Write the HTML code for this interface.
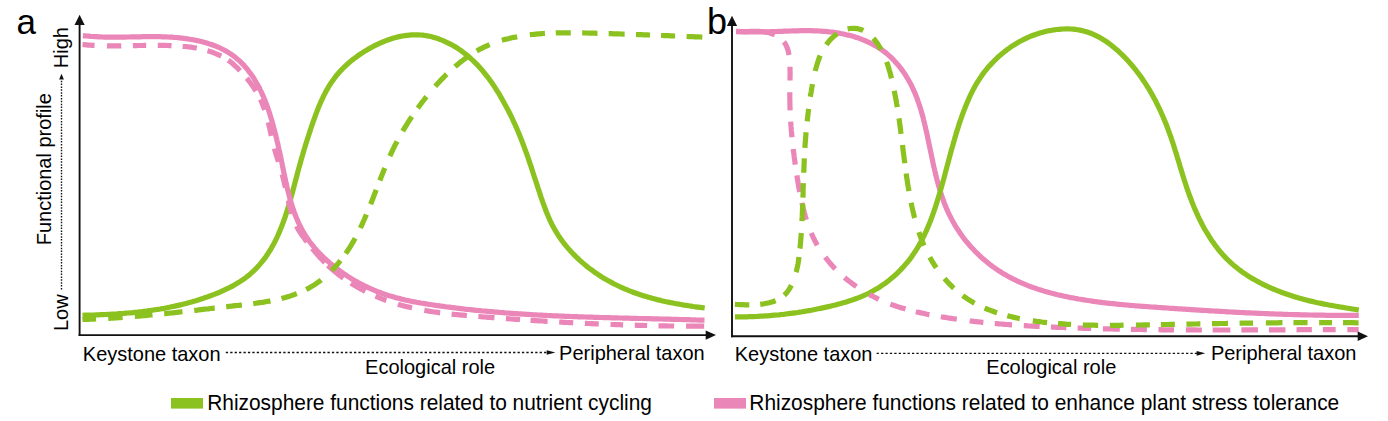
<!DOCTYPE html>
<html><head><meta charset="utf-8"><style>
html,body{margin:0;padding:0;background:#fff;}
svg{display:block;}
</style></head><body>
<svg width="1388" height="421" viewBox="0 0 1388 421">
<rect width="1388" height="421" fill="#fff"/>
<path d="M82.5,315.3 L84.8,315.2 L87.1,315.2 L89.4,315.1 L91.7,315.1 L94.0,315.0 L96.2,314.9 L98.5,314.8 L100.8,314.7 L103.1,314.6 L105.4,314.5 L107.7,314.4 L110.0,314.3 L112.3,314.1 L114.6,314.0 L116.9,313.9 L119.2,313.7 L121.5,313.5 L123.7,313.4 L126.0,313.2 L128.3,313.0 L130.6,312.8 L132.9,312.6 L135.2,312.3 L137.5,312.1 L139.7,311.8 L142.0,311.6 L144.3,311.3 L146.6,311.0 L148.9,310.7 L151.1,310.4 L153.4,310.0 L155.7,309.7 L157.9,309.3 L160.2,309.0 L162.5,308.6 L164.7,308.2 L167.0,307.7 L169.2,307.3 L171.5,306.8 L173.7,306.4 L176.0,305.9 L178.2,305.4 L180.4,304.9 L182.7,304.3 L184.9,303.8 L187.1,303.2 L189.3,302.6 L191.6,302.0 L193.8,301.3 L196.0,300.7 L198.2,300.0 L200.4,299.3 L202.6,298.6 L204.7,297.8 L206.9,297.1 L209.1,296.3 L211.3,295.5 L213.4,294.7 L215.6,293.8 L217.7,293.0 L219.9,292.1 L222.0,291.1 L224.1,290.2 L226.2,289.2 L228.3,288.2 L230.4,287.1 L232.4,286.1 L234.4,284.9 L236.4,283.8 L238.4,282.6 L240.3,281.4 L242.2,280.1 L244.1,278.8 L245.9,277.5 L247.7,276.1 L249.5,274.7 L251.2,273.2 L252.9,271.6 L254.5,270.1 L256.1,268.5 L257.7,266.8 L259.2,265.1 L260.7,263.4 L262.1,261.7 L263.5,259.9 L264.9,258.1 L266.2,256.2 L267.5,254.3 L268.7,252.4 L269.9,250.5 L271.1,248.6 L272.2,246.6 L273.3,244.7 L274.4,242.6 L275.4,240.6 L276.4,238.6 L277.4,236.5 L278.3,234.4 L279.2,232.4 L280.1,230.2 L281.0,228.1 L281.8,226.0 L282.6,223.8 L283.4,221.7 L284.2,219.5 L285.0,217.3 L285.7,215.1 L286.4,212.9 L287.1,210.7 L287.8,208.5 L288.5,206.2 L289.1,204.0 L289.8,201.8 L290.4,199.5 L291.1,197.3 L291.7,195.0 L292.3,192.8 L292.9,190.5 L293.5,188.3 L294.1,186.0 L294.7,183.8 L295.3,181.5 L295.9,179.3 L296.5,177.0 L297.1,174.8 L297.6,172.6 L298.2,170.4 L298.8,168.1 L299.5,165.9 L300.1,163.7 L300.7,161.5 L301.3,159.3 L301.9,157.2 L302.6,155.0 L303.2,152.8 L303.8,150.6 L304.5,148.5 L305.2,146.3 L305.8,144.1 L306.5,142.0 L307.2,139.8 L307.9,137.6 L308.6,135.5 L309.3,133.3 L310.0,131.1 L310.7,129.0 L311.4,126.8 L312.2,124.6 L312.9,122.4 L313.7,120.3 L314.5,118.1 L315.3,115.9 L316.1,113.7 L316.9,111.6 L317.7,109.4 L318.6,107.2 L319.5,105.1 L320.4,103.0 L321.3,100.9 L322.3,98.8 L323.3,96.7 L324.3,94.6 L325.4,92.6 L326.4,90.6 L327.6,88.6 L328.7,86.6 L329.9,84.7 L331.2,82.8 L332.4,80.9 L333.8,79.1 L335.1,77.3 L336.5,75.5 L338.0,73.7 L339.5,72.0 L341.0,70.4 L342.6,68.7 L344.2,67.1 L345.8,65.6 L347.5,64.0 L349.3,62.5 L351.0,61.1 L352.8,59.6 L354.6,58.2 L356.5,56.8 L358.3,55.5 L360.2,54.2 L362.2,52.9 L364.1,51.6 L366.1,50.4 L368.1,49.2 L370.1,48.1 L372.2,47.0 L374.3,45.9 L376.3,44.9 L378.5,43.9 L380.6,42.9 L382.7,42.0 L384.9,41.1 L387.1,40.3 L389.3,39.5 L391.5,38.8 L393.7,38.1 L395.9,37.5 L398.1,36.9 L400.4,36.4 L402.6,36.0 L404.8,35.6 L407.1,35.3 L409.3,35.1 L411.6,34.9 L413.9,34.8 L416.1,34.8 L418.4,34.8 L420.6,35.0 L422.8,35.2 L425.1,35.5 L427.3,35.9 L429.5,36.3 L431.7,36.8 L433.9,37.4 L436.1,38.1 L438.3,38.8 L440.4,39.6 L442.5,40.4 L444.6,41.3 L446.7,42.3 L448.8,43.3 L450.9,44.3 L452.9,45.5 L454.9,46.6 L456.8,47.8 L458.8,49.1 L460.7,50.4 L462.6,51.8 L464.4,53.2 L466.2,54.6 L468.0,56.0 L469.7,57.5 L471.4,59.1 L473.1,60.6 L474.8,62.3 L476.4,63.9 L478.0,65.5 L479.5,67.2 L481.1,69.0 L482.6,70.7 L484.0,72.5 L485.5,74.3 L486.9,76.1 L488.3,77.9 L489.6,79.8 L491.0,81.6 L492.3,83.5 L493.6,85.4 L494.9,87.4 L496.1,89.3 L497.4,91.3 L498.6,93.2 L499.8,95.2 L500.9,97.2 L502.1,99.2 L503.2,101.2 L504.3,103.2 L505.4,105.2 L506.5,107.2 L507.6,109.2 L508.6,111.3 L509.7,113.3 L510.7,115.4 L511.7,117.4 L512.7,119.5 L513.6,121.6 L514.6,123.6 L515.5,125.7 L516.5,127.8 L517.4,129.9 L518.3,132.0 L519.1,134.1 L520.0,136.3 L520.9,138.4 L521.7,140.5 L522.5,142.7 L523.3,144.8 L524.1,146.9 L524.9,149.1 L525.7,151.2 L526.5,153.4 L527.3,155.6 L528.0,157.7 L528.8,159.9 L529.5,162.1 L530.2,164.3 L531.0,166.4 L531.7,168.6 L532.4,170.8 L533.1,173.0 L533.8,175.2 L534.5,177.4 L535.3,179.6 L536.0,181.7 L536.7,183.9 L537.4,186.1 L538.1,188.3 L538.8,190.5 L539.6,192.7 L540.3,194.9 L541.0,197.1 L541.8,199.2 L542.5,201.4 L543.3,203.6 L544.1,205.7 L544.9,207.9 L545.7,210.0 L546.5,212.2 L547.4,214.3 L548.3,216.4 L549.2,218.5 L550.1,220.6 L551.1,222.6 L552.1,224.7 L553.2,226.7 L554.3,228.7 L555.4,230.7 L556.6,232.6 L557.8,234.5 L559.0,236.5 L560.3,238.3 L561.6,240.2 L563.0,242.0 L564.4,243.8 L565.8,245.6 L567.3,247.4 L568.8,249.1 L570.3,250.8 L571.9,252.5 L573.5,254.2 L575.1,255.8 L576.7,257.4 L578.4,259.0 L580.1,260.6 L581.8,262.1 L583.6,263.6 L585.3,265.1 L587.1,266.6 L588.9,268.0 L590.8,269.4 L592.6,270.7 L594.5,272.1 L596.4,273.4 L598.3,274.7 L600.3,276.0 L602.2,277.2 L604.2,278.4 L606.2,279.6 L608.2,280.7 L610.2,281.8 L612.2,282.9 L614.2,284.0 L616.3,285.0 L618.4,286.0 L620.4,287.0 L622.5,287.9 L624.6,288.8 L626.7,289.7 L628.9,290.6 L631.0,291.4 L633.1,292.2 L635.3,293.0 L637.5,293.8 L639.6,294.5 L641.8,295.2 L644.0,295.9 L646.2,296.6 L648.4,297.2 L650.6,297.8 L652.8,298.4 L655.0,299.0 L657.2,299.6 L659.5,300.1 L661.7,300.7 L663.9,301.2 L666.2,301.7 L668.4,302.1 L670.7,302.6 L672.9,303.0 L675.2,303.5 L677.5,303.9 L679.7,304.3 L682.0,304.7 L684.3,305.1 L686.5,305.4 L688.8,305.8 L691.1,306.1 L693.3,306.5 L695.6,306.8 L697.9,307.1 L700.2,307.4 L702.4,307.7 L704.7,308.0" fill="none" stroke="#8cc21f" stroke-width="5.2"/>
<path d="M82.9,35.6 L84.8,35.8 L86.8,36.0 L88.7,36.2 L90.7,36.4 L92.6,36.5 L94.6,36.6 L96.5,36.7 L98.4,36.8 L100.4,36.9 L102.3,37.0 L104.2,37.1 L106.2,37.1 L108.1,37.1 L110.0,37.2 L112.0,37.2 L113.9,37.2 L115.8,37.2 L117.7,37.2 L119.7,37.1 L121.6,37.1 L123.5,37.1 L125.4,37.1 L127.4,37.0 L129.3,37.0 L131.2,36.9 L133.1,36.9 L135.1,36.9 L137.0,36.8 L138.9,36.8 L140.9,36.8 L142.8,36.7 L144.7,36.7 L146.7,36.7 L148.6,36.7 L150.5,36.6 L152.5,36.6 L154.4,36.7 L156.3,36.7 L158.3,36.7 L160.2,36.7 L162.2,36.8 L164.1,36.8 L166.1,36.9 L168.0,37.0 L170.0,37.1 L171.9,37.2 L173.9,37.4 L175.8,37.5 L177.8,37.7 L179.8,37.9 L181.7,38.1 L183.7,38.3 L185.6,38.6 L187.6,38.9 L189.5,39.2 L191.5,39.5 L193.4,39.8 L195.3,40.2 L197.3,40.6 L199.2,41.0 L201.1,41.5 L203.0,42.0 L204.8,42.5 L206.7,43.0 L208.5,43.6 L210.4,44.2 L212.2,44.8 L214.0,45.5 L215.8,46.2 L217.5,46.9 L219.3,47.7 L221.0,48.5 L222.7,49.3 L224.4,50.2 L226.1,51.1 L227.7,52.1 L229.3,53.1 L230.9,54.1 L232.4,55.2 L234.0,56.3 L235.5,57.5 L236.9,58.7 L238.4,59.9 L239.8,61.2 L241.2,62.6 L242.5,63.9 L243.9,65.3 L245.1,66.8 L246.4,68.2 L247.6,69.7 L248.8,71.3 L250.0,72.8 L251.2,74.4 L252.3,76.0 L253.4,77.7 L254.4,79.3 L255.4,81.0 L256.4,82.7 L257.4,84.4 L258.3,86.1 L259.3,87.8 L260.1,89.6 L261.0,91.3 L261.8,93.1 L262.6,94.9 L263.4,96.6 L264.2,98.4 L264.9,100.2 L265.6,102.1 L266.3,103.9 L267.0,105.7 L267.6,107.5 L268.3,109.4 L268.9,111.2 L269.5,113.1 L270.1,114.9 L270.6,116.8 L271.2,118.6 L271.8,120.5 L272.3,122.4 L272.8,124.2 L273.3,126.1 L273.8,128.0 L274.3,129.8 L274.8,131.7 L275.3,133.6 L275.8,135.4 L276.2,137.3 L276.7,139.2 L277.1,141.1 L277.6,142.9 L278.0,144.8 L278.4,146.7 L278.8,148.6 L279.3,150.5 L279.7,152.3 L280.1,154.2 L280.5,156.1 L280.9,158.0 L281.3,159.9 L281.7,161.8 L282.1,163.7 L282.4,165.6 L282.8,167.5 L283.2,169.4 L283.6,171.3 L284.0,173.2 L284.4,175.1 L284.8,177.0 L285.2,178.9 L285.6,180.8 L286.0,182.7 L286.5,184.6 L286.9,186.5 L287.3,188.4 L287.8,190.3 L288.3,192.2 L288.8,194.0 L289.2,195.9 L289.8,197.8 L290.3,199.7 L290.8,201.6 L291.4,203.4 L291.9,205.3 L292.5,207.1 L293.1,209.0 L293.8,210.8 L294.4,212.6 L295.1,214.5 L295.8,216.3 L296.5,218.0 L297.3,219.8 L298.0,221.6 L298.8,223.3 L299.7,225.1 L300.5,226.8 L301.4,228.5 L302.3,230.2 L303.2,231.9 L304.2,233.5 L305.2,235.1 L306.2,236.8 L307.3,238.3 L308.4,239.9 L309.5,241.5 L310.7,243.0 L311.8,244.5 L313.1,246.0 L314.3,247.5 L315.5,249.0 L316.8,250.4 L318.1,251.8 L319.5,253.3 L320.8,254.6 L322.2,256.0 L323.6,257.4 L325.0,258.7 L326.4,260.0 L327.9,261.3 L329.4,262.6 L330.8,263.9 L332.4,265.1 L333.9,266.3 L335.4,267.5 L337.0,268.7 L338.5,269.9 L340.1,271.1 L341.7,272.2 L343.3,273.3 L344.9,274.4 L346.5,275.5 L348.2,276.6 L349.8,277.6 L351.5,278.7 L353.2,279.7 L354.8,280.7 L356.5,281.6 L358.2,282.6 L360.0,283.5 L361.7,284.4 L363.4,285.3 L365.1,286.2 L366.9,287.0 L368.7,287.8 L370.4,288.7 L372.2,289.4 L374.0,290.2 L375.8,290.9 L377.6,291.7 L379.4,292.3 L381.2,293.0 L383.0,293.7 L384.8,294.3 L386.7,294.9 L388.5,295.5 L390.3,296.1 L392.2,296.6 L394.0,297.1 L395.9,297.7 L397.8,298.1 L399.6,298.6 L401.5,299.1 L403.4,299.5 L405.3,300.0 L407.2,300.4 L409.0,300.8 L410.9,301.2 L412.8,301.6 L414.7,301.9 L416.6,302.3 L418.5,302.6 L420.4,303.0 L422.4,303.3 L424.3,303.6 L426.2,303.9 L428.1,304.2 L430.0,304.5 L431.9,304.8 L433.8,305.1 L435.8,305.4 L437.7,305.6 L439.6,305.9 L441.5,306.2 L443.4,306.4 L445.4,306.7 L447.3,307.0 L449.2,307.2 L451.1,307.4 L453.0,307.7 L455.0,307.9 L456.9,308.2 L458.8,308.4 L460.7,308.6 L462.7,308.8 L464.6,309.1 L466.5,309.3 L468.4,309.5 L470.4,309.7 L472.3,309.9 L474.2,310.1 L476.1,310.3 L478.1,310.5 L480.0,310.7 L481.9,310.9 L483.9,311.0 L485.8,311.2 L487.7,311.4 L489.6,311.6 L491.6,311.7 L493.5,311.9 L495.4,312.1 L497.4,312.2 L499.3,312.4 L501.2,312.5 L503.1,312.7 L505.1,312.9 L507.0,313.0 L508.9,313.1 L510.9,313.3 L512.8,313.4 L514.7,313.6 L516.7,313.7 L518.6,313.8 L520.5,313.9 L522.5,314.1 L524.4,314.2 L526.3,314.3 L528.3,314.4 L530.2,314.5 L532.1,314.7 L534.1,314.8 L536.0,314.9 L537.9,315.0 L539.9,315.1 L541.8,315.2 L543.8,315.3 L545.7,315.4 L547.6,315.5 L549.6,315.6 L551.5,315.7 L553.4,315.8 L555.4,315.8 L557.3,315.9 L559.2,316.0 L561.2,316.1 L563.1,316.2 L565.1,316.3 L567.0,316.3 L568.9,316.4 L570.9,316.5 L572.8,316.6 L574.7,316.6 L576.7,316.7 L578.6,316.8 L580.5,316.8 L582.5,316.9 L584.4,317.0 L586.4,317.0 L588.3,317.1 L590.2,317.2 L592.2,317.2 L594.1,317.3 L596.1,317.3 L598.0,317.4 L599.9,317.5 L601.9,317.5 L603.8,317.6 L605.7,317.6 L607.7,317.7 L609.6,317.7 L611.6,317.8 L613.5,317.8 L615.4,317.9 L617.4,317.9 L619.3,318.0 L621.2,318.0 L623.2,318.1 L625.1,318.1 L627.1,318.2 L629.0,318.2 L630.9,318.3 L632.9,318.3 L634.8,318.4 L636.8,318.4 L638.7,318.5 L640.6,318.5 L642.6,318.5 L644.5,318.6 L646.4,318.6 L648.4,318.7 L650.3,318.7 L652.2,318.8 L654.2,318.8 L656.1,318.9 L658.1,318.9 L660.0,319.0 L661.9,319.0 L663.9,319.1 L665.8,319.1 L667.7,319.2 L669.7,319.2 L671.6,319.3 L673.5,319.3 L675.5,319.4 L677.4,319.4 L679.3,319.5 L681.3,319.5 L683.2,319.6 L685.2,319.6 L687.1,319.7 L689.0,319.7 L691.0,319.8 L692.9,319.9 L694.8,319.9 L696.8,320.0 L698.7,320.1 L700.6,320.1 L702.6,320.2 L704.5,320.2" fill="none" stroke="#ea87b8" stroke-width="5.2"/>
<path d="M82.5,44.5 L84.4,44.7 L86.4,44.9 L88.3,45.1 L90.2,45.2 L92.2,45.3 L94.1,45.4 L96.0,45.5 L98.0,45.6 L99.9,45.7 L101.8,45.7 L103.8,45.8 L105.7,45.8 L107.6,45.9 L109.6,45.9 L111.5,45.9 L113.4,45.9 L115.4,45.9 L117.3,45.9 L119.2,45.9 L121.1,45.9 L123.1,45.8 L125.0,45.8 L126.9,45.8 L128.9,45.7 L130.8,45.7 L132.7,45.7 L134.7,45.6 L136.6,45.6 L138.5,45.5 L140.5,45.5 L142.4,45.5 L144.3,45.4 L146.2,45.4 L148.2,45.4 L150.1,45.4 L152.0,45.4 L154.0,45.3 L155.9,45.3 L157.8,45.3 L159.8,45.4 L161.7,45.4 L163.7,45.4 L165.6,45.4 L167.5,45.5 L169.5,45.6 L171.4,45.6 L173.3,45.7 L175.3,45.8 L177.2,45.9 L179.2,46.0 L181.1,46.2 L183.0,46.4 L185.0,46.5 L186.9,46.7 L188.8,47.0 L190.8,47.2 L192.7,47.5 L194.6,47.8 L196.5,48.1 L198.4,48.5 L200.3,48.9 L202.2,49.3 L204.0,49.8 L205.9,50.3 L207.8,50.8 L209.6,51.4 L211.5,52.0 L213.3,52.6 L215.1,53.3 L216.9,54.1 L218.6,54.8 L220.4,55.7 L222.1,56.5 L223.8,57.4 L225.4,58.4 L227.0,59.4 L228.6,60.5 L230.2,61.6 L231.7,62.8 L233.1,64.0 L234.5,65.3 L235.9,66.6 L237.3,67.9 L238.6,69.3 L240.0,70.7 L241.3,72.1 L242.6,73.5 L243.9,75.0 L245.2,76.5 L246.4,77.9 L247.7,79.4 L248.9,81.0 L250.1,82.5 L251.2,84.0 L252.4,85.6 L253.5,87.2 L254.5,88.8 L255.6,90.5 L256.6,92.1 L257.5,93.8 L258.4,95.5 L259.3,97.2 L260.2,98.9 L261.0,100.6 L261.8,102.4 L262.5,104.2 L263.2,106.0 L263.9,107.8 L264.5,109.6 L265.2,111.4 L265.7,113.2 L266.3,115.1 L266.8,116.9 L267.3,118.8 L267.8,120.7 L268.3,122.6 L268.8,124.4 L269.2,126.3 L269.7,128.2 L270.1,130.1 L270.5,132.0 L270.9,133.9 L271.4,135.8 L271.8,137.7 L272.2,139.6 L272.7,141.5 L273.1,143.4 L273.6,145.3 L274.0,147.1 L274.5,149.0 L275.1,150.9 L275.6,152.7 L276.1,154.6 L276.7,156.4 L277.3,158.2 L277.9,160.1 L278.4,161.9 L279.0,163.8 L279.6,165.6 L280.2,167.4 L280.7,169.3 L281.3,171.1 L281.8,173.0 L282.3,174.9 L282.8,176.7 L283.3,178.6 L283.7,180.5 L284.2,182.4 L284.6,184.3 L285.1,186.2 L285.5,188.1 L285.9,190.0 L286.3,191.9 L286.8,193.8 L287.2,195.7 L287.6,197.6 L288.1,199.4 L288.5,201.3 L289.0,203.2 L289.4,205.1 L289.9,207.0 L290.4,208.9 L290.9,210.7 L291.5,212.6 L292.0,214.4 L292.6,216.3 L293.2,218.1 L293.9,219.9 L294.6,221.7 L295.3,223.4 L296.1,225.2 L296.9,226.9 L297.8,228.6 L298.7,230.2 L299.7,231.8 L300.8,233.4 L301.8,235.0 L302.9,236.5 L304.1,238.0 L305.2,239.6 L306.4,241.1 L307.6,242.6 L308.7,244.1 L309.9,245.6 L311.1,247.1 L312.3,248.6 L313.6,250.1 L314.8,251.6 L316.1,253.0 L317.3,254.5 L318.6,255.9 L319.9,257.4 L321.3,258.8 L322.6,260.2 L323.9,261.6 L325.3,263.0 L326.7,264.3 L328.1,265.7 L329.5,267.0 L331.0,268.3 L332.4,269.5 L333.9,270.8 L335.4,272.0 L336.9,273.2 L338.4,274.4 L339.9,275.6 L341.5,276.7 L343.1,277.9 L344.6,279.0 L346.2,280.1 L347.8,281.2 L349.4,282.2 L351.1,283.3 L352.7,284.3 L354.3,285.3 L356.0,286.3 L357.7,287.2 L359.4,288.2 L361.1,289.1 L362.8,290.0 L364.5,290.9 L366.2,291.8 L367.9,292.6 L369.7,293.5 L371.4,294.3 L373.2,295.1 L375.0,295.9 L376.7,296.6 L378.5,297.4 L380.3,298.1 L382.1,298.8 L383.9,299.5 L385.7,300.2 L387.6,300.8 L389.4,301.5 L391.2,302.1 L393.0,302.7 L394.9,303.3 L396.7,303.8 L398.6,304.4 L400.4,304.9 L402.3,305.4 L404.1,305.9 L406.0,306.4 L407.9,306.9 L409.8,307.3 L411.6,307.8 L413.5,308.2 L415.4,308.6 L417.3,309.0 L419.2,309.4 L421.1,309.7 L422.9,310.1 L424.8,310.4 L426.7,310.8 L428.6,311.1 L430.5,311.4 L432.5,311.7 L434.4,312.0 L436.3,312.2 L438.2,312.5 L440.1,312.8 L442.0,313.0 L443.9,313.2 L445.9,313.5 L447.8,313.7 L449.7,313.9 L451.6,314.1 L453.6,314.3 L455.5,314.5 L457.4,314.7 L459.3,314.9 L461.3,315.1 L463.2,315.2 L465.1,315.4 L467.1,315.6 L469.0,315.8 L470.9,315.9 L472.9,316.1 L474.8,316.2 L476.7,316.4 L478.7,316.5 L480.6,316.7 L482.5,316.8 L484.5,317.0 L486.4,317.1 L488.3,317.3 L490.3,317.4 L492.2,317.6 L494.1,317.7 L496.1,317.9 L498.0,318.0 L499.9,318.2 L501.8,318.3 L503.8,318.5 L505.7,318.6 L507.6,318.7 L509.6,318.9 L511.5,319.0 L513.4,319.1 L515.4,319.3 L517.3,319.4 L519.2,319.5 L521.2,319.7 L523.1,319.8 L525.0,319.9 L526.9,320.1 L528.9,320.2 L530.8,320.3 L532.7,320.4 L534.7,320.6 L536.6,320.7 L538.5,320.8 L540.5,320.9 L542.4,321.0 L544.3,321.1 L546.2,321.3 L548.2,321.4 L550.1,321.5 L552.0,321.6 L554.0,321.7 L555.9,321.8 L557.8,321.9 L559.7,322.0 L561.7,322.1 L563.6,322.3 L565.5,322.4 L567.5,322.5 L569.4,322.6 L571.3,322.7 L573.3,322.8 L575.2,322.9 L577.1,323.0 L579.0,323.1 L581.0,323.1 L582.9,323.2 L584.8,323.3 L586.8,323.4 L588.7,323.5 L590.6,323.6 L592.6,323.7 L594.5,323.8 L596.4,323.8 L598.3,323.9 L600.3,324.0 L602.2,324.1 L604.1,324.2 L606.1,324.2 L608.0,324.3 L609.9,324.4 L611.9,324.5 L613.8,324.5 L615.7,324.6 L617.6,324.7 L619.6,324.7 L621.5,324.8 L623.4,324.9 L625.4,324.9 L627.3,325.0 L629.2,325.1 L631.2,325.1 L633.1,325.2 L635.0,325.2 L637.0,325.3 L638.9,325.3 L640.8,325.4 L642.8,325.4 L644.7,325.5 L646.6,325.5 L648.6,325.6 L650.5,325.6 L652.4,325.7 L654.4,325.7 L656.3,325.8 L658.2,325.8 L660.2,325.8 L662.1,325.9 L664.0,325.9 L666.0,325.9 L667.9,326.0 L669.8,326.0 L671.8,326.0 L673.7,326.0 L675.7,326.1 L677.6,326.1 L679.5,326.1 L681.5,326.1 L683.4,326.2 L685.3,326.2 L687.3,326.2 L689.2,326.2 L691.2,326.2 L693.1,326.2 L695.0,326.2 L697.0,326.2 L698.9,326.2 L700.9,326.2 L702.8,326.2 L704.7,326.2" fill="none" stroke="#ea87b8" stroke-width="5.2" stroke-dasharray="12.09 12.45 14.30 11.61 13.30 11.60 13.79 11.12 14.25 11.01 14.82 8.13 15.83 9.97 15.87 9.56 11.19 13.10 13.80 13.10 13.80 13.10 13.80 13.10 13.80 13.10 18.99 8.39 19.05 4.04 20.23 8.93 16.56 11.23 11.72 12.16 14.56 12.55 16.02 11.55 15.33 11.54 16.15 11.50 14.17 10.48 17.17 11.54 14.08 11.64 13.89 11.84 12.60 11.63 12.40 11.32 15.70 11.91 18.10 11.50 13.80 11.50"/>
<path d="M82.4,319.5 L84.3,319.4 L86.2,319.3 L88.2,319.3 L90.1,319.2 L92.0,319.1 L93.9,319.1 L95.8,319.0 L97.8,318.9 L99.7,318.8 L101.6,318.7 L103.5,318.6 L105.4,318.5 L107.3,318.4 L109.2,318.3 L111.1,318.2 L113.0,318.1 L114.9,317.9 L116.8,317.8 L118.6,317.7 L120.5,317.6 L122.4,317.4 L124.3,317.3 L126.2,317.1 L128.1,317.0 L129.9,316.8 L131.8,316.7 L133.7,316.5 L135.6,316.4 L137.4,316.2 L139.3,316.1 L141.2,315.9 L143.1,315.7 L144.9,315.6 L146.8,315.4 L148.7,315.2 L150.5,315.0 L152.4,314.9 L154.3,314.7 L156.1,314.5 L158.0,314.3 L159.9,314.1 L161.7,313.9 L163.6,313.7 L165.5,313.6 L167.3,313.4 L169.2,313.2 L171.1,313.0 L172.9,312.8 L174.8,312.6 L176.7,312.4 L178.5,312.2 L180.4,312.0 L182.3,311.7 L184.1,311.5 L186.0,311.3 L187.9,311.1 L189.7,310.9 L191.6,310.7 L193.5,310.5 L195.3,310.3 L197.2,310.1 L199.1,309.8 L201.0,309.6 L202.8,309.4 L204.7,309.2 L206.6,309.0 L208.5,308.8 L210.4,308.5 L212.3,308.3 L214.1,308.1 L216.0,307.9 L217.9,307.7 L219.8,307.5 L221.7,307.2 L223.6,307.0 L225.5,306.8 L227.4,306.6 L229.3,306.4 L231.2,306.2 L233.1,305.9 L235.0,305.7 L237.0,305.5 L238.9,305.3 L240.8,305.1 L242.7,304.9 L244.6,304.6 L246.5,304.4 L248.5,304.2 L250.4,303.9 L252.3,303.7 L254.2,303.5 L256.1,303.2 L258.0,302.9 L259.9,302.6 L261.8,302.4 L263.7,302.1 L265.6,301.7 L267.5,301.4 L269.4,301.1 L271.3,300.7 L273.1,300.4 L275.0,300.0 L276.8,299.6 L278.7,299.1 L280.5,298.7 L282.3,298.2 L284.2,297.8 L286.0,297.3 L287.8,296.7 L289.5,296.2 L291.3,295.6 L293.1,295.0 L294.8,294.4 L296.6,293.7 L298.3,293.1 L300.0,292.4 L301.7,291.6 L303.4,290.9 L305.0,290.1 L306.7,289.2 L308.3,288.4 L309.9,287.5 L311.5,286.6 L313.1,285.6 L314.7,284.6 L316.2,283.6 L317.8,282.5 L319.3,281.4 L320.8,280.3 L322.2,279.1 L323.7,278.0 L325.1,276.7 L326.5,275.5 L327.9,274.2 L329.3,272.9 L330.7,271.6 L332.0,270.2 L333.3,268.9 L334.6,267.5 L335.9,266.0 L337.2,264.6 L338.4,263.1 L339.6,261.7 L340.8,260.2 L342.0,258.6 L343.1,257.1 L344.3,255.6 L345.4,254.0 L346.5,252.4 L347.6,250.8 L348.6,249.2 L349.7,247.6 L350.7,246.0 L351.6,244.4 L352.6,242.7 L353.6,241.1 L354.5,239.4 L355.4,237.8 L356.3,236.1 L357.2,234.4 L358.0,232.7 L358.9,231.0 L359.7,229.3 L360.5,227.6 L361.4,225.9 L362.2,224.2 L362.9,222.5 L363.7,220.7 L364.5,219.0 L365.2,217.3 L366.0,215.5 L366.7,213.8 L367.5,212.1 L368.2,210.3 L368.9,208.6 L369.6,206.8 L370.3,205.0 L371.0,203.3 L371.7,201.5 L372.4,199.7 L373.1,198.0 L373.8,196.2 L374.4,194.4 L375.1,192.7 L375.8,190.9 L376.5,189.1 L377.2,187.4 L377.8,185.6 L378.5,183.8 L379.2,182.1 L379.9,180.3 L380.6,178.5 L381.3,176.8 L382.0,175.0 L382.7,173.3 L383.4,171.5 L384.1,169.7 L384.8,168.0 L385.5,166.2 L386.2,164.5 L387.0,162.8 L387.7,161.0 L388.4,159.3 L389.2,157.6 L390.0,155.8 L390.8,154.1 L391.6,152.4 L392.4,150.7 L393.2,149.0 L394.0,147.3 L394.8,145.6 L395.7,143.9 L396.6,142.3 L397.4,140.6 L398.3,138.9 L399.2,137.3 L400.2,135.6 L401.1,134.0 L402.0,132.3 L403.0,130.7 L403.9,129.1 L404.9,127.5 L405.9,125.9 L406.9,124.3 L407.9,122.7 L408.9,121.1 L409.9,119.5 L411.0,117.9 L412.0,116.3 L413.1,114.8 L414.2,113.2 L415.2,111.6 L416.3,110.1 L417.4,108.6 L418.6,107.0 L419.7,105.5 L420.8,104.0 L421.9,102.5 L423.1,101.0 L424.3,99.5 L425.4,98.0 L426.6,96.5 L427.8,95.0 L429.0,93.6 L430.2,92.1 L431.4,90.7 L432.6,89.2 L433.9,87.8 L435.1,86.4 L436.4,85.0 L437.7,83.6 L439.0,82.2 L440.3,80.8 L441.6,79.4 L442.9,78.1 L444.2,76.7 L445.5,75.4 L446.9,74.1 L448.3,72.8 L449.6,71.5 L451.0,70.2 L452.4,68.9 L453.9,67.7 L455.3,66.4 L456.7,65.2 L458.2,64.0 L459.6,62.8 L461.1,61.6 L462.6,60.5 L464.1,59.3 L465.7,58.2 L467.2,57.1 L468.7,56.0 L470.3,55.0 L471.9,53.9 L473.5,52.9 L475.1,51.9 L476.7,51.0 L478.4,50.0 L480.0,49.1 L481.7,48.3 L483.4,47.4 L485.1,46.6 L486.8,45.8 L488.5,45.1 L490.2,44.4 L492.0,43.7 L493.8,43.0 L495.5,42.4 L497.3,41.8 L499.1,41.2 L500.9,40.6 L502.7,40.1 L504.5,39.6 L506.4,39.1 L508.2,38.7 L510.0,38.2 L511.8,37.8 L513.7,37.4 L515.5,37.1 L517.4,36.7 L519.2,36.4 L521.1,36.0 L522.9,35.7 L524.8,35.5 L526.7,35.2 L528.5,34.9 L530.4,34.7 L532.3,34.5 L534.1,34.3 L536.0,34.1 L537.9,33.9 L539.8,33.8 L541.7,33.6 L543.5,33.5 L545.4,33.4 L547.3,33.3 L549.2,33.2 L551.1,33.1 L553.0,33.0 L554.9,33.0 L556.8,32.9 L558.7,32.9 L560.6,32.8 L562.5,32.8 L564.4,32.8 L566.3,32.8 L568.2,32.8 L570.1,32.8 L572.0,32.8 L573.9,32.8 L575.8,32.8 L577.7,32.8 L579.6,32.9 L581.5,32.9 L583.4,32.9 L585.3,33.0 L587.2,33.0 L589.1,33.1 L591.0,33.1 L592.9,33.2 L594.8,33.2 L596.7,33.3 L598.6,33.3 L600.5,33.4 L602.3,33.4 L604.2,33.5 L606.1,33.5 L608.0,33.6 L609.9,33.6 L611.8,33.7 L613.7,33.8 L615.6,33.8 L617.5,33.9 L619.3,33.9 L621.2,34.0 L623.1,34.1 L625.0,34.1 L626.9,34.2 L628.8,34.3 L630.7,34.3 L632.6,34.4 L634.4,34.5 L636.3,34.5 L638.2,34.6 L640.1,34.7 L642.0,34.7 L643.9,34.8 L645.7,34.9 L647.6,34.9 L649.5,35.0 L651.4,35.1 L653.3,35.2 L655.2,35.2 L657.1,35.3 L659.0,35.4 L660.8,35.5 L662.7,35.5 L664.6,35.6 L666.5,35.7 L668.4,35.7 L670.3,35.8 L672.2,35.9 L674.1,36.0 L676.0,36.0 L677.8,36.1 L679.7,36.2 L681.6,36.3 L683.5,36.3 L685.4,36.4 L687.3,36.5 L689.2,36.6 L691.1,36.6 L693.0,36.7 L694.9,36.8 L696.8,36.9 L698.7,36.9 L700.6,37.0 L702.5,37.1" fill="none" stroke="#8cc21f" stroke-width="5.2" stroke-dasharray="13.71 12.16 14.47 12.20 17.72 11.76 18.39 11.85 20.67 11.53 15.80 11.41 17.46 11.29 16.10 10.25 17.81 14.30 13.08 8.78 18.09 11.36 14.77 11.27 15.28 10.13 13.34 12.99 16.40 11.64 17.15 10.47 14.29 13.64 16.67 11.27 16.03 10.75 14.42 13.00 15.74 12.77 15.15 10.89 15.00 11.40 15.30 11.21 15.99 11.33 14.09 11.04 14.09 11.43 15.79 11.00 15.00 11.00"/>
<path d="M736.1,31.3 L738.0,31.4 L739.9,31.6 L741.8,31.7 L743.7,31.8 L745.7,31.9 L747.6,31.9 L749.5,32.0 L751.5,32.0 L753.4,32.0 L755.3,32.0 L757.3,32.0 L759.2,32.0 L761.1,32.0 L763.1,32.0 L765.0,31.9 L766.9,31.9 L768.9,31.8 L770.8,31.7 L772.7,31.7 L774.7,31.6 L776.6,31.5 L778.6,31.4 L780.5,31.4 L782.4,31.3 L784.4,31.2 L786.3,31.1 L788.3,31.1 L790.2,31.0 L792.2,30.9 L794.1,30.9 L796.0,30.8 L798.0,30.8 L799.9,30.7 L801.9,30.7 L803.8,30.7 L805.8,30.7 L807.7,30.7 L809.6,30.7 L811.6,30.7 L813.5,30.8 L815.5,30.8 L817.4,30.9 L819.3,31.0 L821.3,31.1 L823.2,31.3 L825.1,31.4 L827.1,31.6 L829.0,31.8 L830.9,32.0 L832.9,32.2 L834.8,32.5 L836.7,32.8 L838.7,33.1 L840.6,33.5 L842.5,33.8 L844.4,34.2 L846.3,34.7 L848.2,35.1 L850.1,35.6 L852.0,36.1 L853.9,36.6 L855.7,37.2 L857.6,37.8 L859.4,38.4 L861.2,39.1 L863.0,39.8 L864.8,40.5 L866.6,41.3 L868.3,42.1 L870.0,42.9 L871.8,43.8 L873.4,44.7 L875.1,45.6 L876.8,46.6 L878.4,47.6 L880.0,48.6 L881.6,49.7 L883.1,50.8 L884.6,51.9 L886.1,53.1 L887.6,54.4 L889.0,55.6 L890.5,56.9 L891.8,58.2 L893.2,59.6 L894.5,61.0 L895.8,62.4 L897.1,63.9 L898.4,65.3 L899.6,66.8 L900.8,68.4 L901.9,69.9 L903.1,71.5 L904.2,73.1 L905.3,74.7 L906.3,76.4 L907.3,78.0 L908.3,79.7 L909.3,81.4 L910.2,83.1 L911.1,84.8 L912.0,86.6 L912.8,88.3 L913.6,90.1 L914.4,91.9 L915.2,93.7 L915.9,95.5 L916.6,97.3 L917.3,99.1 L917.9,100.9 L918.6,102.8 L919.2,104.6 L919.8,106.5 L920.4,108.3 L921.0,110.2 L921.5,112.1 L922.0,113.9 L922.6,115.8 L923.1,117.7 L923.5,119.6 L924.0,121.5 L924.5,123.4 L924.9,125.3 L925.4,127.2 L925.8,129.1 L926.3,131.0 L926.7,132.9 L927.1,134.8 L927.5,136.7 L927.9,138.6 L928.3,140.5 L928.7,142.4 L929.1,144.3 L929.5,146.2 L929.9,148.1 L930.3,150.0 L930.7,151.9 L931.1,153.8 L931.5,155.7 L931.9,157.6 L932.3,159.5 L932.7,161.4 L933.1,163.3 L933.5,165.2 L933.9,167.1 L934.4,168.9 L934.8,170.8 L935.3,172.7 L935.7,174.6 L936.2,176.5 L936.6,178.3 L937.1,180.2 L937.6,182.1 L938.1,183.9 L938.6,185.8 L939.2,187.6 L939.7,189.5 L940.3,191.3 L940.9,193.2 L941.5,195.0 L942.1,196.8 L942.7,198.7 L943.4,200.5 L944.0,202.3 L944.7,204.1 L945.4,205.9 L946.2,207.7 L946.9,209.4 L947.7,211.2 L948.5,213.0 L949.3,214.7 L950.2,216.4 L951.1,218.1 L952.0,219.9 L952.9,221.5 L953.9,223.2 L954.8,224.9 L955.8,226.5 L956.8,228.2 L957.9,229.8 L959.0,231.4 L960.0,233.0 L961.2,234.6 L962.3,236.2 L963.4,237.7 L964.6,239.3 L965.8,240.8 L967.0,242.3 L968.3,243.8 L969.5,245.2 L970.8,246.7 L972.1,248.1 L973.5,249.6 L974.8,251.0 L976.2,252.4 L977.6,253.7 L979.0,255.1 L980.4,256.4 L981.8,257.7 L983.3,259.0 L984.8,260.3 L986.3,261.5 L987.8,262.8 L989.3,264.0 L990.8,265.2 L992.4,266.3 L994.0,267.5 L995.6,268.6 L997.2,269.7 L998.8,270.8 L1000.4,271.8 L1002.1,272.9 L1003.7,273.9 L1005.4,274.8 L1007.1,275.8 L1008.8,276.7 L1010.5,277.6 L1012.2,278.5 L1013.9,279.4 L1015.6,280.2 L1017.4,281.1 L1019.1,281.9 L1020.9,282.7 L1022.7,283.4 L1024.4,284.2 L1026.2,284.9 L1028.0,285.6 L1029.8,286.3 L1031.6,287.0 L1033.4,287.6 L1035.3,288.2 L1037.1,288.9 L1038.9,289.5 L1040.8,290.0 L1042.6,290.6 L1044.5,291.2 L1046.4,291.7 L1048.2,292.2 L1050.1,292.8 L1052.0,293.3 L1053.8,293.7 L1055.7,294.2 L1057.6,294.7 L1059.5,295.1 L1061.4,295.5 L1063.3,296.0 L1065.2,296.4 L1067.1,296.8 L1069.0,297.2 L1070.9,297.6 L1072.8,297.9 L1074.7,298.3 L1076.6,298.6 L1078.5,299.0 L1080.4,299.3 L1082.3,299.6 L1084.2,299.9 L1086.1,300.2 L1088.0,300.5 L1090.0,300.8 L1091.9,301.1 L1093.8,301.4 L1095.7,301.6 L1097.6,301.9 L1099.6,302.1 L1101.5,302.4 L1103.4,302.6 L1105.3,302.9 L1107.2,303.1 L1109.2,303.3 L1111.1,303.5 L1113.0,303.7 L1115.0,303.9 L1116.9,304.1 L1118.8,304.3 L1120.7,304.5 L1122.7,304.7 L1124.6,304.8 L1126.5,305.0 L1128.5,305.2 L1130.4,305.3 L1132.3,305.5 L1134.3,305.7 L1136.2,305.8 L1138.1,306.0 L1140.1,306.1 L1142.0,306.3 L1143.9,306.4 L1145.9,306.5 L1147.8,306.7 L1149.8,306.8 L1151.7,307.0 L1153.6,307.1 L1155.6,307.2 L1157.5,307.4 L1159.4,307.5 L1161.4,307.6 L1163.3,307.8 L1165.2,307.9 L1167.2,308.0 L1169.1,308.2 L1171.0,308.3 L1173.0,308.4 L1174.9,308.6 L1176.8,308.7 L1178.8,308.8 L1180.7,308.9 L1182.6,309.1 L1184.6,309.2 L1186.5,309.3 L1188.4,309.4 L1190.4,309.6 L1192.3,309.7 L1194.2,309.8 L1196.2,309.9 L1198.1,310.1 L1200.0,310.2 L1202.0,310.3 L1203.9,310.4 L1205.8,310.5 L1207.8,310.6 L1209.7,310.8 L1211.6,310.9 L1213.6,311.0 L1215.5,311.1 L1217.4,311.2 L1219.4,311.3 L1221.3,311.4 L1223.2,311.5 L1225.2,311.6 L1227.1,311.8 L1229.0,311.9 L1231.0,312.0 L1232.9,312.1 L1234.8,312.2 L1236.8,312.3 L1238.7,312.4 L1240.6,312.5 L1242.6,312.6 L1244.5,312.7 L1246.4,312.8 L1248.4,312.8 L1250.3,312.9 L1252.2,313.0 L1254.2,313.1 L1256.1,313.2 L1258.1,313.3 L1260.0,313.4 L1261.9,313.5 L1263.9,313.5 L1265.8,313.6 L1267.7,313.7 L1269.7,313.8 L1271.6,313.8 L1273.5,313.9 L1275.5,314.0 L1277.4,314.1 L1279.3,314.1 L1281.3,314.2 L1283.2,314.3 L1285.1,314.3 L1287.1,314.4 L1289.0,314.5 L1290.9,314.5 L1292.9,314.6 L1294.8,314.6 L1296.8,314.7 L1298.7,314.7 L1300.6,314.8 L1302.6,314.8 L1304.5,314.9 L1306.4,314.9 L1308.4,315.0 L1310.3,315.0 L1312.2,315.0 L1314.2,315.1 L1316.1,315.1 L1318.1,315.2 L1320.0,315.2 L1321.9,315.2 L1323.9,315.2 L1325.8,315.3 L1327.8,315.3 L1329.7,315.3 L1331.6,315.3 L1333.6,315.3 L1335.5,315.4 L1337.5,315.4 L1339.4,315.4 L1341.3,315.4 L1343.3,315.4 L1345.2,315.4 L1347.2,315.4 L1349.1,315.4 L1351.0,315.4 L1353.0,315.4 L1354.9,315.4 L1356.9,315.4 L1358.8,315.4" fill="none" stroke="#ea87b8" stroke-width="5.2"/>
<path d="M735.0,316.9 L737.3,316.9 L739.7,316.9 L742.0,316.9 L744.3,316.8 L746.7,316.8 L749.0,316.7 L751.3,316.6 L753.6,316.6 L756.0,316.5 L758.3,316.3 L760.6,316.2 L762.9,316.1 L765.3,315.9 L767.6,315.8 L769.9,315.6 L772.2,315.4 L774.5,315.2 L776.8,315.0 L779.1,314.8 L781.4,314.5 L783.7,314.3 L786.1,314.0 L788.4,313.7 L790.7,313.4 L793.0,313.1 L795.3,312.8 L797.6,312.5 L799.9,312.1 L802.1,311.8 L804.4,311.4 L806.7,311.0 L809.0,310.6 L811.3,310.2 L813.6,309.7 L815.9,309.3 L818.2,308.8 L820.4,308.4 L822.7,307.9 L825.0,307.4 L827.3,306.9 L829.6,306.4 L831.8,305.8 L834.1,305.3 L836.4,304.7 L838.6,304.1 L840.9,303.5 L843.2,302.8 L845.4,302.2 L847.6,301.5 L849.9,300.8 L852.1,300.1 L854.3,299.3 L856.5,298.5 L858.7,297.7 L860.8,296.8 L863.0,295.9 L865.1,295.0 L867.2,294.0 L869.3,293.0 L871.3,291.9 L873.4,290.8 L875.4,289.6 L877.4,288.4 L879.4,287.2 L881.3,285.9 L883.2,284.6 L885.1,283.3 L887.0,281.9 L888.8,280.5 L890.6,279.0 L892.4,277.5 L894.2,276.0 L895.9,274.5 L897.6,272.9 L899.2,271.2 L900.8,269.6 L902.4,267.9 L904.0,266.2 L905.5,264.4 L907.0,262.7 L908.5,260.9 L909.9,259.1 L911.3,257.2 L912.6,255.3 L913.9,253.4 L915.2,251.5 L916.4,249.5 L917.6,247.6 L918.8,245.6 L919.9,243.6 L921.1,241.5 L922.1,239.5 L923.2,237.4 L924.2,235.3 L925.2,233.2 L926.2,231.1 L927.1,229.0 L928.0,226.8 L928.9,224.7 L929.8,222.5 L930.7,220.3 L931.5,218.1 L932.3,215.9 L933.1,213.7 L933.9,211.5 L934.6,209.3 L935.4,207.1 L936.1,204.8 L936.8,202.6 L937.5,200.3 L938.2,198.1 L938.9,195.9 L939.6,193.6 L940.2,191.4 L940.9,189.1 L941.5,186.9 L942.1,184.6 L942.8,182.4 L943.4,180.1 L944.0,177.9 L944.6,175.6 L945.2,173.4 L945.8,171.1 L946.4,168.9 L947.0,166.6 L947.6,164.4 L948.2,162.1 L948.8,159.9 L949.4,157.6 L950.0,155.4 L950.6,153.1 L951.2,150.9 L951.8,148.7 L952.5,146.4 L953.1,144.2 L953.7,142.0 L954.4,139.7 L955.0,137.5 L955.7,135.3 L956.3,133.1 L957.0,130.9 L957.7,128.7 L958.4,126.4 L959.1,124.2 L959.9,122.0 L960.6,119.9 L961.4,117.7 L962.1,115.5 L962.9,113.3 L963.7,111.1 L964.6,109.0 L965.4,106.8 L966.3,104.7 L967.2,102.5 L968.1,100.4 L969.0,98.2 L970.0,96.1 L971.0,94.0 L972.0,92.0 L973.1,89.9 L974.2,87.8 L975.3,85.8 L976.4,83.8 L977.6,81.8 L978.9,79.9 L980.2,77.9 L981.5,76.0 L982.8,74.1 L984.2,72.2 L985.7,70.4 L987.1,68.6 L988.6,66.8 L990.2,65.1 L991.8,63.4 L993.4,61.7 L995.0,60.0 L996.7,58.4 L998.4,56.8 L1000.2,55.3 L1002.0,53.7 L1003.8,52.3 L1005.6,50.8 L1007.5,49.4 L1009.4,48.0 L1011.3,46.7 L1013.2,45.4 L1015.2,44.2 L1017.2,43.0 L1019.2,41.8 L1021.3,40.7 L1023.4,39.6 L1025.5,38.6 L1027.6,37.6 L1029.7,36.7 L1031.9,35.8 L1034.1,35.0 L1036.3,34.2 L1038.5,33.5 L1040.7,32.8 L1042.9,32.2 L1045.2,31.6 L1047.5,31.0 L1049.8,30.6 L1052.1,30.2 L1054.4,29.8 L1056.7,29.5 L1059.0,29.3 L1061.4,29.1 L1063.7,29.0 L1066.0,28.9 L1068.4,28.9 L1070.7,29.0 L1073.0,29.2 L1075.3,29.4 L1077.6,29.7 L1079.8,30.1 L1082.0,30.6 L1084.3,31.2 L1086.4,31.8 L1088.6,32.5 L1090.7,33.3 L1092.9,34.1 L1094.9,35.1 L1097.0,36.1 L1099.0,37.1 L1101.0,38.3 L1103.0,39.5 L1105.0,40.7 L1106.9,42.0 L1108.8,43.3 L1110.7,44.7 L1112.5,46.2 L1114.3,47.7 L1116.1,49.2 L1117.9,50.7 L1119.6,52.3 L1121.3,54.0 L1123.0,55.6 L1124.7,57.3 L1126.3,59.0 L1127.9,60.7 L1129.5,62.5 L1131.0,64.2 L1132.5,66.0 L1134.0,67.8 L1135.5,69.6 L1136.9,71.5 L1138.3,73.3 L1139.7,75.2 L1141.1,77.1 L1142.4,79.0 L1143.7,81.0 L1145.0,82.9 L1146.3,84.9 L1147.5,86.8 L1148.8,88.8 L1149.9,90.8 L1151.1,92.8 L1152.3,94.9 L1153.4,96.9 L1154.5,98.9 L1155.6,101.0 L1156.6,103.1 L1157.7,105.2 L1158.7,107.3 L1159.7,109.4 L1160.7,111.5 L1161.6,113.6 L1162.6,115.7 L1163.5,117.9 L1164.4,120.0 L1165.3,122.2 L1166.2,124.3 L1167.0,126.5 L1167.8,128.7 L1168.6,130.9 L1169.4,133.1 L1170.2,135.2 L1171.0,137.4 L1171.7,139.6 L1172.5,141.8 L1173.2,144.0 L1173.9,146.3 L1174.6,148.5 L1175.3,150.7 L1176.0,152.9 L1176.7,155.1 L1177.3,157.3 L1178.0,159.6 L1178.7,161.8 L1179.4,164.0 L1180.0,166.2 L1180.7,168.4 L1181.4,170.7 L1182.1,172.9 L1182.7,175.1 L1183.4,177.3 L1184.1,179.5 L1184.8,181.7 L1185.6,184.0 L1186.3,186.2 L1187.0,188.4 L1187.8,190.6 L1188.6,192.8 L1189.3,195.0 L1190.2,197.2 L1191.0,199.3 L1191.8,201.5 L1192.7,203.7 L1193.5,205.9 L1194.4,208.0 L1195.4,210.2 L1196.3,212.3 L1197.3,214.4 L1198.2,216.5 L1199.2,218.6 L1200.3,220.7 L1201.3,222.8 L1202.4,224.9 L1203.5,226.9 L1204.6,229.0 L1205.8,231.0 L1207.0,233.0 L1208.2,234.9 L1209.4,236.9 L1210.7,238.8 L1211.9,240.8 L1213.3,242.6 L1214.6,244.5 L1216.0,246.4 L1217.4,248.2 L1218.8,250.0 L1220.3,251.8 L1221.8,253.5 L1223.3,255.2 L1224.9,256.9 L1226.5,258.6 L1228.1,260.2 L1229.8,261.8 L1231.5,263.3 L1233.2,264.9 L1235.0,266.4 L1236.8,267.8 L1238.6,269.3 L1240.5,270.7 L1242.4,272.1 L1244.3,273.4 L1246.2,274.7 L1248.2,276.0 L1250.2,277.2 L1252.2,278.4 L1254.2,279.6 L1256.3,280.8 L1258.4,281.9 L1260.5,283.0 L1262.6,284.1 L1264.7,285.1 L1266.8,286.1 L1269.0,287.1 L1271.1,288.1 L1273.3,289.0 L1275.4,289.9 L1277.6,290.8 L1279.8,291.6 L1282.0,292.5 L1284.2,293.3 L1286.4,294.0 L1288.6,294.8 L1290.8,295.5 L1293.0,296.2 L1295.2,296.9 L1297.4,297.6 L1299.6,298.2 L1301.8,298.8 L1304.1,299.4 L1306.3,300.0 L1308.6,300.6 L1310.8,301.1 L1313.0,301.6 L1315.3,302.2 L1317.6,302.7 L1319.8,303.1 L1322.1,303.6 L1324.4,304.1 L1326.6,304.5 L1328.9,305.0 L1331.2,305.4 L1333.5,305.8 L1335.8,306.2 L1338.1,306.6 L1340.3,307.0 L1342.7,307.4 L1345.0,307.8 L1347.3,308.2 L1349.6,308.5 L1351.9,308.9 L1354.2,309.2 L1356.5,309.6 L1358.8,309.9" fill="none" stroke="#8cc21f" stroke-width="5.2"/>
<path d="M736.1,31.6 L737.9,31.7 L739.8,31.7 L741.8,31.7 L743.8,31.6 L745.9,31.6 L748.0,31.5 L750.1,31.4 L752.3,31.3 L754.4,31.3 L756.6,31.3 L758.8,31.4 L761.0,31.5 L763.1,31.7 L765.2,32.0 L767.3,32.4 L769.4,32.8 L771.4,33.5 L773.4,34.2 L775.3,35.0 L777.1,36.0 L778.8,37.1 L780.4,38.2 L781.8,39.5 L783.2,40.9 L784.4,42.4 L785.4,44.1 L786.3,45.8 L787.1,47.6 L787.7,49.4 L788.3,51.4 L788.7,53.4 L789.1,55.4 L789.4,57.5 L789.6,59.6 L789.8,61.7 L789.9,63.9 L790.0,66.0 L790.0,68.2 L790.0,70.3 L790.1,72.4 L790.1,74.5 L790.0,76.6 L790.0,78.7 L790.0,80.8 L789.9,82.9 L789.9,85.0 L789.9,87.1 L789.8,89.2 L789.8,91.2 L789.8,93.3 L789.8,95.4 L789.8,97.4 L789.8,99.5 L789.9,101.6 L789.9,103.6 L789.9,105.7 L790.0,107.7 L790.1,109.8 L790.2,111.8 L790.3,113.9 L790.4,115.9 L790.5,118.0 L790.6,120.0 L790.7,122.1 L790.9,124.1 L791.0,126.2 L791.2,128.2 L791.3,130.2 L791.5,132.3 L791.7,134.3 L791.9,136.4 L792.1,138.4 L792.3,140.5 L792.5,142.5 L792.7,144.5 L793.0,146.6 L793.2,148.6 L793.4,150.7 L793.7,152.7 L794.0,154.8 L794.2,156.8 L794.5,158.9 L794.8,160.9 L795.0,163.0 L795.3,165.0 L795.6,167.1 L795.9,169.1 L796.2,171.2 L796.6,173.2 L796.9,175.3 L797.2,177.4 L797.5,179.4 L797.8,181.5 L798.2,183.6 L798.5,185.6 L798.9,187.7 L799.3,189.8 L799.6,191.8 L800.0,193.9 L800.4,195.9 L800.8,198.0 L801.3,200.0 L801.7,202.1 L802.2,204.1 L802.7,206.2 L803.2,208.2 L803.7,210.2 L804.2,212.2 L804.8,214.2 L805.3,216.2 L805.9,218.2 L806.5,220.2 L807.2,222.1 L807.8,224.1 L808.5,226.0 L809.2,227.9 L810.0,229.8 L810.7,231.7 L811.5,233.6 L812.4,235.5 L813.2,237.3 L814.1,239.2 L815.0,241.0 L816.0,242.8 L816.9,244.6 L818.0,246.4 L819.0,248.1 L820.1,249.8 L821.2,251.6 L822.4,253.2 L823.5,254.9 L824.8,256.6 L826.0,258.2 L827.3,259.8 L828.6,261.4 L829.9,263.0 L831.2,264.5 L832.6,266.1 L834.0,267.6 L835.5,269.1 L836.9,270.5 L838.4,272.0 L839.9,273.4 L841.4,274.8 L843.0,276.2 L844.6,277.5 L846.2,278.9 L847.8,280.2 L849.4,281.5 L851.1,282.7 L852.8,284.0 L854.4,285.2 L856.2,286.4 L857.9,287.6 L859.6,288.7 L861.4,289.8 L863.2,290.9 L865.0,292.0 L866.8,293.0 L868.6,294.1 L870.4,295.1 L872.2,296.0 L874.1,297.0 L876.0,297.9 L877.8,298.8 L879.7,299.7 L881.6,300.5 L883.5,301.3 L885.4,302.1 L887.3,302.9 L889.3,303.7 L891.2,304.4 L893.1,305.1 L895.1,305.8 L897.0,306.4 L899.0,307.1 L901.0,307.7 L902.9,308.3 L904.9,308.8 L906.9,309.4 L908.9,310.0 L910.9,310.5 L912.9,311.0 L914.9,311.5 L916.9,312.0 L918.9,312.4 L920.9,312.9 L922.9,313.3 L925.0,313.7 L927.0,314.2 L929.0,314.6 L931.1,314.9 L933.1,315.3 L935.1,315.7 L937.2,316.1 L939.2,316.4 L941.2,316.8 L943.3,317.1 L945.3,317.4 L947.4,317.8 L949.4,318.1 L951.5,318.4 L953.5,318.7 L955.6,319.0 L957.6,319.3 L959.7,319.6 L961.7,319.8 L963.8,320.1 L965.8,320.4 L967.9,320.6 L969.9,320.9 L972.0,321.1 L974.0,321.4 L976.1,321.6 L978.1,321.8 L980.2,322.0 L982.2,322.3 L984.3,322.5 L986.4,322.7 L988.4,322.9 L990.5,323.1 L992.5,323.3 L994.6,323.5 L996.7,323.6 L998.7,323.8 L1000.8,324.0 L1002.9,324.2 L1004.9,324.3 L1007.0,324.5 L1009.1,324.6 L1011.1,324.8 L1013.2,324.9 L1015.3,325.1 L1017.3,325.2 L1019.4,325.4 L1021.5,325.5 L1023.5,325.6 L1025.6,325.7 L1027.7,325.9 L1029.7,326.0 L1031.8,326.1 L1033.9,326.2 L1035.9,326.3 L1038.0,326.4 L1040.1,326.5 L1042.1,326.6 L1044.2,326.7 L1046.3,326.8 L1048.4,326.9 L1050.4,327.0 L1052.5,327.1 L1054.6,327.2 L1056.6,327.3 L1058.7,327.4 L1060.8,327.5 L1062.8,327.5 L1064.9,327.6 L1067.0,327.7 L1069.0,327.8 L1071.1,327.8 L1073.2,327.9 L1075.3,328.0 L1077.3,328.1 L1079.4,328.1 L1081.5,328.2 L1083.5,328.3 L1085.6,328.3 L1087.7,328.4 L1089.7,328.4 L1091.8,328.5 L1093.9,328.6 L1095.9,328.6 L1098.0,328.7 L1100.1,328.7 L1102.2,328.8 L1104.2,328.8 L1106.3,328.9 L1108.4,328.9 L1110.4,329.0 L1112.5,329.0 L1114.6,329.1 L1116.6,329.1 L1118.7,329.1 L1120.8,329.2 L1122.8,329.2 L1124.9,329.3 L1127.0,329.3 L1129.0,329.3 L1131.1,329.4 L1133.2,329.4 L1135.3,329.4 L1137.3,329.5 L1139.4,329.5 L1141.5,329.5 L1143.5,329.6 L1145.6,329.6 L1147.7,329.6 L1149.7,329.6 L1151.8,329.7 L1153.9,329.7 L1155.9,329.7 L1158.0,329.7 L1160.1,329.7 L1162.1,329.8 L1164.2,329.8 L1166.3,329.8 L1168.4,329.8 L1170.4,329.8 L1172.5,329.8 L1174.6,329.9 L1176.6,329.9 L1178.7,329.9 L1180.8,329.9 L1182.8,329.9 L1184.9,329.9 L1187.0,329.9 L1189.0,329.9 L1191.1,329.9 L1193.2,329.9 L1195.2,329.9 L1197.3,330.0 L1199.4,330.0 L1201.5,330.0 L1203.5,330.0 L1205.6,330.0 L1207.7,330.0 L1209.7,330.0 L1211.8,330.0 L1213.9,330.0 L1215.9,330.0 L1218.0,330.0 L1220.1,330.0 L1222.1,330.0 L1224.2,330.0 L1226.3,330.0 L1228.3,330.0 L1230.4,330.0 L1232.5,330.0 L1234.6,330.0 L1236.6,330.0 L1238.7,329.9 L1240.8,329.9 L1242.8,329.9 L1244.9,329.9 L1247.0,329.9 L1249.0,329.9 L1251.1,329.9 L1253.2,329.9 L1255.2,329.9 L1257.3,329.9 L1259.4,329.9 L1261.5,329.9 L1263.5,329.9 L1265.6,329.9 L1267.7,329.9 L1269.7,329.9 L1271.8,329.8 L1273.9,329.8 L1275.9,329.8 L1278.0,329.8 L1280.1,329.8 L1282.2,329.8 L1284.2,329.8 L1286.3,329.8 L1288.4,329.8 L1290.4,329.8 L1292.5,329.8 L1294.6,329.8 L1296.6,329.8 L1298.7,329.7 L1300.8,329.7 L1302.9,329.7 L1304.9,329.7 L1307.0,329.7 L1309.1,329.7 L1311.1,329.7 L1313.2,329.7 L1315.3,329.7 L1317.4,329.7 L1319.4,329.7 L1321.5,329.7 L1323.6,329.7 L1325.6,329.7 L1327.7,329.7 L1329.8,329.7 L1331.9,329.7 L1333.9,329.7 L1336.0,329.7 L1338.1,329.7 L1340.1,329.7 L1342.2,329.7 L1344.3,329.7 L1346.4,329.7 L1348.4,329.7 L1350.5,329.7 L1352.6,329.7 L1354.7,329.7 L1356.7,329.7 L1358.8,329.7" fill="none" stroke="#ea87b8" stroke-width="5.2" stroke-dasharray="39.18 11.60 14.28 11.75 13.92 11.69 18.20 11.24 15.69 11.75 15.79 10.75 16.99 10.99 17.63 14.12 13.60 14.29 15.45 12.75 14.81 15.31 10.50 12.62 15.84 10.71 13.95 11.54 16.19 12.97 13.79 11.42 17.35 11.80 15.88 11.26 15.49 11.24 13.59 11.71 16.99 11.00 16.00 11.60 15.50 11.90 16.00 10.80 17.70 11.00 16.60 11.00 16.50 11.10 15.30 11.00 12.80 11.70 11.30 11.50"/>
<path d="M734.9,304.4 L737.3,304.5 L739.9,304.6 L742.4,304.7 L745.1,304.8 L747.8,304.8 L750.5,304.8 L753.2,304.8 L755.9,304.6 L758.6,304.5 L761.3,304.2 L764.0,303.8 L766.6,303.3 L769.2,302.8 L771.7,302.1 L774.1,301.2 L776.5,300.3 L778.7,299.1 L780.8,297.9 L782.8,296.4 L784.7,294.8 L786.4,293.0 L787.9,291.0 L789.4,288.9 L790.7,286.6 L791.9,284.3 L792.9,281.9 L793.9,279.4 L794.8,276.8 L795.6,274.2 L796.3,271.6 L796.9,269.0 L797.5,266.4 L798.0,263.9 L798.4,261.3 L798.8,258.7 L799.1,256.1 L799.4,253.5 L799.7,250.9 L800.0,248.3 L800.2,245.7 L800.5,243.1 L800.7,240.5 L800.9,237.9 L801.1,235.2 L801.3,232.6 L801.4,230.0 L801.6,227.4 L801.8,224.8 L801.9,222.1 L802.0,219.5 L802.2,216.9 L802.3,214.3 L802.4,211.6 L802.5,209.0 L802.6,206.4 L802.7,203.8 L802.8,201.1 L802.9,198.5 L803.0,195.9 L803.1,193.3 L803.1,190.6 L803.2,188.0 L803.3,185.4 L803.4,182.7 L803.5,180.1 L803.6,177.5 L803.7,174.9 L803.8,172.2 L803.9,169.6 L804.0,167.0 L804.1,164.4 L804.2,161.8 L804.3,159.2 L804.4,156.6 L804.6,153.9 L804.7,151.3 L804.9,148.7 L805.0,146.1 L805.2,143.5 L805.4,141.0 L805.6,138.4 L805.8,135.8 L806.0,133.2 L806.2,130.6 L806.5,128.0 L806.7,125.4 L807.0,122.8 L807.3,120.2 L807.6,117.7 L807.9,115.1 L808.2,112.5 L808.5,109.9 L808.8,107.3 L809.2,104.7 L809.6,102.1 L809.9,99.5 L810.3,96.9 L810.7,94.3 L811.2,91.6 L811.6,89.0 L812.1,86.4 L812.5,83.8 L813.0,81.1 L813.5,78.5 L814.1,75.9 L814.7,73.2 L815.3,70.6 L816.0,68.1 L816.7,65.5 L817.5,63.0 L818.3,60.5 L819.2,58.0 L820.2,55.6 L821.3,53.2 L822.5,50.9 L823.7,48.7 L825.1,46.5 L826.5,44.4 L828.1,42.3 L829.8,40.3 L831.6,38.4 L833.6,36.6 L835.6,34.9 L837.8,33.4 L840.0,32.0 L842.3,30.7 L844.7,29.8 L847.2,29.0 L849.7,28.5 L852.2,28.3 L854.7,28.3 L857.2,28.6 L859.6,29.2 L862.0,29.9 L864.3,31.0 L866.4,32.3 L868.5,33.7 L870.5,35.4 L872.4,37.2 L874.2,39.2 L875.8,41.3 L877.4,43.5 L878.9,45.8 L880.3,48.1 L881.6,50.5 L882.9,52.9 L884.0,55.3 L885.0,57.8 L886.0,60.2 L886.9,62.7 L887.8,65.2 L888.6,67.7 L889.3,70.2 L890.1,72.7 L890.7,75.3 L891.4,77.8 L892.0,80.3 L892.6,82.9 L893.1,85.4 L893.7,88.0 L894.2,90.6 L894.7,93.1 L895.2,95.7 L895.7,98.3 L896.2,100.8 L896.6,103.4 L897.1,106.0 L897.5,108.6 L897.9,111.1 L898.3,113.7 L898.7,116.3 L899.1,118.9 L899.4,121.5 L899.8,124.1 L900.1,126.7 L900.5,129.3 L900.8,131.9 L901.2,134.5 L901.5,137.1 L901.8,139.7 L902.1,142.3 L902.5,144.9 L902.8,147.5 L903.1,150.1 L903.4,152.7 L903.8,155.3 L904.1,157.9 L904.4,160.5 L904.8,163.1 L905.1,165.7 L905.4,168.3 L905.8,170.9 L906.2,173.5 L906.5,176.0 L906.9,178.6 L907.3,181.2 L907.7,183.8 L908.1,186.4 L908.6,189.0 L909.0,191.6 L909.5,194.1 L910.0,196.7 L910.4,199.3 L911.0,201.8 L911.5,204.4 L912.0,207.0 L912.6,209.5 L913.2,212.1 L913.8,214.6 L914.4,217.2 L915.1,219.7 L915.8,222.2 L916.5,224.7 L917.3,227.2 L918.1,229.7 L918.9,232.2 L919.7,234.7 L920.6,237.1 L921.5,239.6 L922.5,242.0 L923.5,244.4 L924.6,246.8 L925.7,249.2 L926.8,251.5 L928.0,253.9 L929.2,256.2 L930.5,258.5 L931.8,260.8 L933.2,263.0 L934.6,265.3 L936.1,267.5 L937.6,269.7 L939.1,271.8 L940.7,273.9 L942.4,276.0 L944.1,278.0 L945.8,280.0 L947.6,282.0 L949.4,283.9 L951.2,285.7 L953.1,287.6 L955.0,289.3 L957.0,291.1 L959.0,292.7 L961.1,294.4 L963.1,295.9 L965.2,297.4 L967.4,298.9 L969.6,300.2 L971.8,301.6 L974.0,302.9 L976.3,304.1 L978.6,305.3 L980.9,306.4 L983.3,307.5 L985.6,308.5 L988.0,309.5 L990.5,310.4 L992.9,311.3 L995.4,312.2 L997.8,313.0 L1000.3,313.8 L1002.9,314.5 L1005.4,315.2 L1007.9,315.9 L1010.5,316.5 L1013.1,317.1 L1015.6,317.7 L1018.2,318.3 L1020.8,318.8 L1023.4,319.3 L1026.1,319.7 L1028.7,320.1 L1031.3,320.5 L1033.9,320.9 L1036.5,321.3 L1039.2,321.6 L1041.8,322.0 L1044.4,322.3 L1047.1,322.6 L1049.7,322.8 L1052.3,323.1 L1054.9,323.3 L1057.5,323.5 L1060.2,323.7 L1062.8,323.9 L1065.4,324.1 L1068.0,324.3 L1070.6,324.4 L1073.2,324.6 L1075.9,324.7 L1078.5,324.8 L1081.1,324.9 L1083.7,325.0 L1086.3,325.1 L1088.9,325.1 L1091.5,325.2 L1094.2,325.2 L1096.8,325.3 L1099.4,325.3 L1102.0,325.3 L1104.6,325.3 L1107.2,325.3 L1109.8,325.3 L1112.4,325.3 L1115.1,325.3 L1117.7,325.3 L1120.3,325.3 L1122.9,325.2 L1125.5,325.2 L1128.1,325.2 L1130.7,325.1 L1133.4,325.1 L1136.0,325.1 L1138.6,325.0 L1141.2,325.0 L1143.8,324.9 L1146.4,324.9 L1149.0,324.8 L1151.7,324.8 L1154.3,324.7 L1156.9,324.7 L1159.5,324.6 L1162.1,324.6 L1164.7,324.5 L1167.4,324.5 L1170.0,324.4 L1172.6,324.4 L1175.2,324.4 L1177.8,324.3 L1180.5,324.3 L1183.1,324.2 L1185.7,324.2 L1188.3,324.1 L1191.0,324.1 L1193.6,324.0 L1196.2,324.0 L1198.8,323.9 L1201.4,323.9 L1204.1,323.8 L1206.7,323.8 L1209.3,323.7 L1211.9,323.7 L1214.6,323.6 L1217.2,323.6 L1219.8,323.5 L1222.4,323.5 L1225.1,323.5 L1227.7,323.4 L1230.3,323.4 L1232.9,323.3 L1235.6,323.3 L1238.2,323.3 L1240.8,323.2 L1243.4,323.2 L1246.1,323.1 L1248.7,323.1 L1251.3,323.1 L1253.9,323.0 L1256.6,323.0 L1259.2,323.0 L1261.8,322.9 L1264.4,322.9 L1267.1,322.9 L1269.7,322.8 L1272.3,322.8 L1274.9,322.8 L1277.6,322.8 L1280.2,322.7 L1282.8,322.7 L1285.4,322.7 L1288.1,322.7 L1290.7,322.7 L1293.3,322.6 L1295.9,322.6 L1298.5,322.6 L1301.2,322.6 L1303.8,322.6 L1306.4,322.6 L1309.0,322.6 L1311.7,322.6 L1314.3,322.6 L1316.9,322.6 L1319.5,322.6 L1322.1,322.6 L1324.8,322.6 L1327.4,322.6 L1330.0,322.6 L1332.6,322.6 L1335.2,322.6 L1337.8,322.6 L1340.5,322.6 L1343.1,322.7 L1345.7,322.7 L1348.3,322.7 L1350.9,322.7 L1353.5,322.7 L1356.1,322.8 L1358.8,322.8" fill="none" stroke="#8cc21f" stroke-width="5.2" stroke-dasharray="14.40 10.95 15.90 10.25 12.32 13.89 15.52 8.44 15.62 11.98 17.53 6.00 14.40 10.43 14.41 10.43 15.71 10.92 12.61 12.25 12.78 13.42 16.27 12.40 15.57 11.56 16.03 12.93 13.60 13.54 17.24 12.62 16.61 11.51 15.68 11.09 18.40 10.44 17.86 11.85 15.59 14.68 14.45 13.07 12.32 13.61 13.39 11.56 14.08 11.20 13.24 10.77 12.75 13.20 14.40 11.00 13.07 11.74 15.39 11.70 13.70 12.30 14.00 11.01 14.00 11.60 13.90 11.61 16.00 11.60 13.50 12.80 16.60 11.00 14.10 11.60 12.90 11.00 15.56 11.50"/>
<line x1="79.6" y1="336.1" x2="79.6" y2="23.8" stroke="#111" stroke-width="1.9"/>
<path d="M74.5,25.1 L79.6,14.8 L84.7,25.1 Z" fill="#111"/>
<line x1="78.65" y1="335.1" x2="707" y2="335.1" stroke="#111" stroke-width="1.9"/>
<path d="M705.7,330.4 L716,335.1 L705.7,339.8 Z" fill="#111"/>
<line x1="732" y1="337.2" x2="732" y2="24.7" stroke="#111" stroke-width="1.9"/>
<path d="M726.9,26 L732,15.7 L737.1,26 Z" fill="#111"/>
<line x1="731.05" y1="336.2" x2="1359" y2="336.2" stroke="#111" stroke-width="1.9"/>
<path d="M1357.7,331.5 L1368,336.2 L1357.7,340.9 Z" fill="#111"/>
<line x1="61.5" y1="289.5" x2="61.5" y2="80.5" stroke="#111" stroke-width="1.4" stroke-dasharray="1.5 1.38"/>
<path d="M59.1,79.6 L61.5,73.7 L63.9,79.6 Z" fill="#111"/>
<line x1="225.8" y1="352.5" x2="547" y2="352.5" stroke="#111" stroke-width="1.3" stroke-dasharray="2.3 2.12"/><path d="M546.7,350.15 L555.4,352.5 L546.7,354.85 Z" fill="#111"/>
<line x1="876.6" y1="353.3" x2="1197" y2="353.3" stroke="#111" stroke-width="1.3" stroke-dasharray="2.3 2.12"/><path d="M1196.6,350.95 L1205.3,353.3 L1196.6,355.65 Z" fill="#111"/>
<rect x="171" y="398" width="32" height="10.6" fill="#8cc21f"/>
<rect x="714" y="398" width="32" height="10.6" fill="#ea87b8"/>

<text x="16.6" y="34.4" font-size="35" font-family="'Liberation Sans', sans-serif" fill="#000">a</text>
<text x="707" y="34.4" font-size="36" font-family="'Liberation Sans', sans-serif" fill="#000">b</text>
<g font-family="'Liberation Sans', sans-serif" font-size="20" fill="#000">
<text transform="translate(67.6,68.2) rotate(-90) scale(1,1.04)">High</text>
<text transform="translate(68.0,331.1) rotate(-90) scale(1,1.04)">Low</text>
<text transform="translate(51.0,245.3) rotate(-90) scale(1,1.04)">Functional profile</text>
<text transform="translate(82.8,360.6) scale(1,1.04)">Keystone taxon</text>
<text transform="translate(559.1,360.2) scale(1,1.04)">Peripheral taxon</text>
<text transform="translate(365.1,374) scale(1,1.04)">Ecological role</text>
<text transform="translate(734.7,360.6) scale(1,1.04)">Keystone taxon</text>
<text transform="translate(1210.9,360.2) scale(1,1.04)">Peripheral taxon</text>
<text transform="translate(986.3,374) scale(1,1.04)">Ecological role</text>
</g>
<g font-family="'Liberation Sans', sans-serif" font-size="20.9" fill="#000">
<text transform="translate(207.2,409.6) scale(1,1.04)">Rhizosphere functions related to nutrient cycling</text>
<text transform="translate(749.3,409.5) scale(1,1.04)">Rhizosphere functions related to enhance plant stress tolerance</text>
</g>

</svg>
</body></html>
